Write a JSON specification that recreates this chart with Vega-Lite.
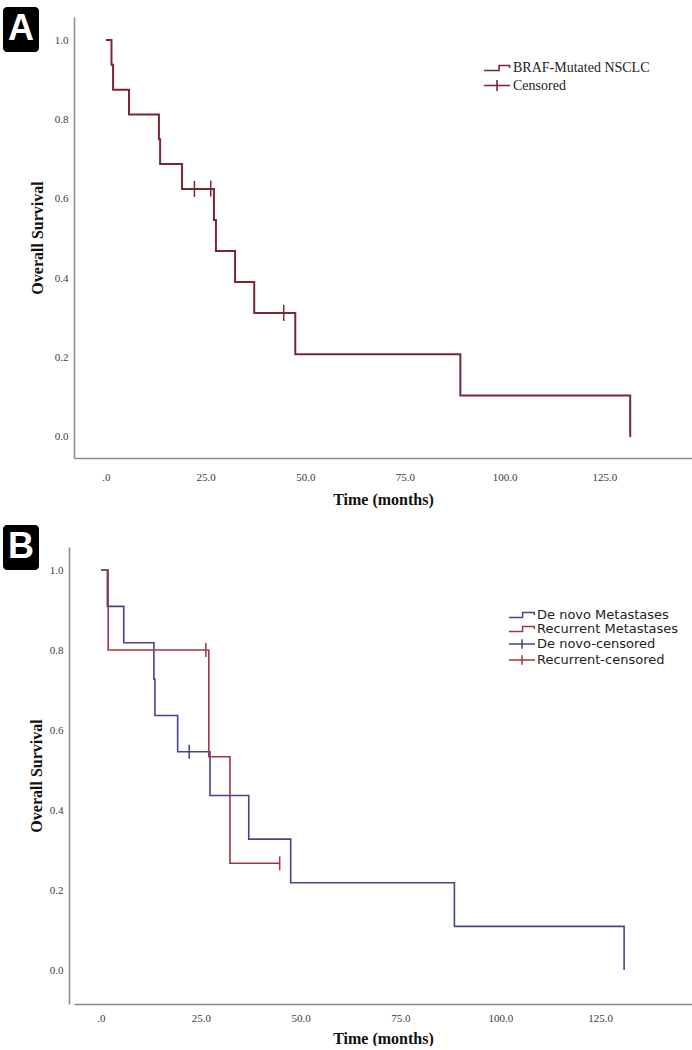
{
  "$schema": "https://vega.github.io/schema/vega-lite/v6.json",
  "autosize": {"type": "pad"},
  "padding": {"left": 3, "top": 7, "right": 0, "bottom": 0},
  "background": "white",
  "config": {
    "view": {"stroke": null},
    "axis": {
      "grid": false, "ticks": false, "tickSize": 0,
      "domainColor": "#8c8c8c", "domainWidth": 1.6,
      "labelFont": "Liberation Serif", "labelFontSize": 11, "labelColor": "#3a3a3a",
      "titleFont": "Liberation Serif", "titleFontSize": 16, "titleFontWeight": "bold", "titleColor": "#111111"
    }
  },
  "datasets": {
    "aLine": [
      {"t": 0, "s": 1}, {"t": 1.4, "s": 0.9375}, {"t": 1.8, "s": 0.875}, {"t": 5.8, "s": 0.8125},
      {"t": 13.3, "s": 0.75}, {"t": 13.6, "s": 0.6875}, {"t": 19.1, "s": 0.625}, {"t": 27.1, "s": 0.5469},
      {"t": 27.6, "s": 0.4688}, {"t": 32.4, "s": 0.3906}, {"t": 37.2, "s": 0.3125}, {"t": 47.5, "s": 0.2083},
      {"t": 88.9, "s": 0.1042}, {"t": 131.5, "s": 0}
    ],
    "aCens": [
      {"t": 22.2, "s": 0.625}, {"t": 26.3, "s": 0.625}, {"t": 44.6, "s": 0.3125}
    ],
    "aLeg": [
      {"key": "BRAF-Mutated NSCLC", "panel": "A"}, {"key": "Censored", "panel": "A"}
    ],
    "bLine": [
      {"group": "De novo", "t": 0, "s": 1}, {"group": "De novo", "t": 1.6, "s": 0.9091},
      {"group": "De novo", "t": 5.7, "s": 0.8182}, {"group": "De novo", "t": 13.25, "s": 0.7273},
      {"group": "De novo", "t": 13.5, "s": 0.6364}, {"group": "De novo", "t": 19.2, "s": 0.5455},
      {"group": "De novo", "t": 27.3, "s": 0.4364}, {"group": "De novo", "t": 37.0, "s": 0.3273},
      {"group": "De novo", "t": 47.5, "s": 0.2182}, {"group": "De novo", "t": 88.5, "s": 0.1091},
      {"group": "De novo", "t": 131, "s": 0},
      {"group": "Recurrent", "t": 0, "s": 1}, {"group": "Recurrent", "t": 1.8, "s": 0.8},
      {"group": "Recurrent", "t": 27.0, "s": 0.5333}, {"group": "Recurrent", "t": 32.3, "s": 0.2667},
      {"group": "Recurrent", "t": 44.75, "s": 0.2667}
    ],
    "bCens": [
      {"group": "De novo", "t": 22.1, "s": 0.5455},
      {"group": "Recurrent", "t": 26.25, "s": 0.8},
      {"group": "Recurrent", "t": 44.75, "s": 0.2667}
    ],
    "bLeg": [
      {"key": "De novo Metastases", "panel": "B"}, {"key": "Recurrent Metastases", "panel": "B"},
      {"key": "De novo-censored", "panel": "B"}, {"key": "Recurrent-censored", "panel": "B"}
    ]
  },
  "concat": [
    {
      "width": 618, "height": 441,
      "layer": [
        {
          "data": {"name": "aLine"},
          "mark": {"type": "line", "interpolate": "step-after", "color": "#7b2733", "strokeWidth": 2},
          "encoding": {
            "x": {"field": "t", "type": "quantitative",
              "scale": {"domain": [-8, 147], "nice": false, "zero": false},
              "axis": {"title": "Time (months)", "values": [0, 25, 50, 75, 100, 125],
                "labelExpr": "datum.value == 0 ? '.0' : format(datum.value, '.1f')",
                "labelPadding": 13, "titlePadding": 9}},
            "y": {"field": "s", "type": "quantitative",
              "scale": {"domain": [-0.053, 1.058], "nice": false, "zero": false},
              "axis": {"title": "Overall Survival", "values": [0, 0.2, 0.4, 0.6, 0.8, 1.0], "format": ".1f",
                "labelPadding": 6, "titlePadding": 9}}
          }
        },
        {
          "data": {"name": "aCens"},
          "mark": {"type": "point", "shape": "M0,-1V1", "size": 256, "filled": false, "color": "#7b2733", "strokeWidth": 1.5, "opacity": 1},
          "encoding": {
            "x": {"field": "t", "type": "quantitative"},
            "y": {"field": "s", "type": "quantitative"}
          }
        },
        {
          "data": {"name": "aLeg"},
          "mark": {"type": "point", "filled": false, "color": "#7b2733", "strokeWidth": 1.6},
          "encoding": {
            "opacity": {"value": 0},
            "shape": {"field": "key", "type": "nominal",
              "scale": {"domain": ["BRAF-Mutated NSCLC", "Censored"],
                "range": ["M-1.86,0.36H0.3V-0.36H1.8V0", "M-1.86,0H1.86M0,-0.8V0.8"]},
              "legend": {"title": null, "orient": "none", "legendX": 415, "legendY": 43,
                "symbolSize": 196, "symbolStrokeWidth": 1.6, "symbolOpacity": 1, "symbolFillColor": "transparent",
                "labelFont": "Liberation Serif", "labelFontSize": 14, "labelColor": "#222222",
                "labelOffset": 8, "rowPadding": 1.5, "padding": 0}},
            "strokeDash": {"field": "panel", "type": "nominal",
              "scale": {"domain": ["A"], "range": [[1, 0]]},
              "legend": {"title": "A", "values": [], "orient": "none", "legendX": -71, "legendY": -10,
                "titleFont": "Liberation Sans", "titleFontWeight": "bold", "titleFontSize": 36,
                "titleColor": "white", "titlePadding": 0, "fillColor": "black", "cornerRadius": 4, "padding": 5}}
          }
        }
      ]
    },
    {
      "width": 618, "height": 457,
      "layer": [
        {
          "data": {"name": "bLine"},
          "mark": {"type": "line", "interpolate": "step-after", "strokeWidth": 1.6},
          "encoding": {
            "x": {"field": "t", "type": "quantitative",
              "scale": {"domain": [-6.76, 148], "nice": false, "zero": false},
              "axis": {"title": "Time (months)", "values": [0, 25, 50, 75, 100, 125],
                "labelExpr": "datum.value == 0 ? '.0' : format(datum.value, '.1f')",
                "labelPadding": 8, "titlePadding": 7}},
            "y": {"field": "s", "type": "quantitative",
              "scale": {"domain": [-0.085, 1.0575], "nice": false, "zero": false},
              "axis": {"title": "Overall Survival", "values": [0, 0.2, 0.4, 0.6, 0.8, 1.0], "format": ".1f",
                "offset": 5, "labelPadding": 6, "titlePadding": 5}},
            "stroke": {"field": "group", "type": "nominal",
              "scale": {"domain": ["De novo", "Recurrent"], "range": ["#42468f", "#9b3a44"]},
              "legend": null},
            "detail": {"field": "group"}
          }
        },
        {
          "data": {"name": "bCens"},
          "mark": {"type": "point", "shape": "M0,-1V1", "size": 196, "filled": false, "strokeWidth": 1.5, "opacity": 1},
          "encoding": {
            "x": {"field": "t", "type": "quantitative"},
            "y": {"field": "s", "type": "quantitative"},
            "stroke": {"field": "group", "type": "nominal", "legend": null}
          }
        },
        {
          "data": {"name": "bLeg"},
          "mark": {"type": "point", "filled": false, "strokeWidth": 1.5},
          "encoding": {
            "opacity": {"value": 0},
            "color": {"field": "key", "type": "nominal",
              "scale": {"domain": ["De novo Metastases", "Recurrent Metastases", "De novo-censored", "Recurrent-censored"],
                "range": ["#42468f", "#9b3a44", "#42468f", "#9b3a44"]},
              "legend": {"title": null, "orient": "none", "legendX": 441, "legendY": 61,
                "symbolSize": 144, "symbolStrokeWidth": 1.5, "symbolOpacity": 1, "symbolFillColor": "transparent",
                "labelFont": "DejaVu Sans", "labelFontSize": 13, "labelColor": "#222222",
                "labelOffset": 8, "rowPadding": 0, "padding": 0}},
            "shape": {"field": "key", "type": "nominal",
              "scale": {"domain": ["De novo Metastases", "Recurrent Metastases", "De novo-censored", "Recurrent-censored"],
                "range": ["M-2.17,0.42H0.1V-0.42H2.05V0", "M-2.17,0.42H0.1V-0.42H2.05V0", "M-2.17,0H2.17M0,-0.8V0.8", "M-2.17,0H2.17M0,-0.8V0.8"]},
              "legend": {"title": null, "orient": "none", "legendX": 441, "legendY": 61,
                "symbolSize": 144, "symbolStrokeWidth": 1.5, "symbolOpacity": 1, "symbolFillColor": "transparent",
                "labelFont": "DejaVu Sans", "labelFontSize": 13, "labelColor": "#222222",
                "labelOffset": 8, "rowPadding": 0, "padding": 0}},
            "strokeDash": {"field": "panel", "type": "nominal",
              "scale": {"domain": ["B"], "range": [[1, 0]]},
              "legend": {"title": "B", "values": [], "orient": "none", "legendX": -71, "legendY": -22,
                "titleFont": "Liberation Sans", "titleFontWeight": "bold", "titleFontSize": 36,
                "titleColor": "white", "titlePadding": 0, "fillColor": "black", "cornerRadius": 4, "padding": 5}}
          }
        }
      ]
    }
  ],
  "columns": 1,
  "align": "none",
  "spacing": 18,
  "resolve": {
    "scale": {"x": "independent", "y": "independent", "color": "independent", "shape": "independent", "stroke": "independent", "strokeDash": "independent"},
    "legend": {"color": "independent", "shape": "independent", "stroke": "independent", "strokeDash": "independent"},
    "axis": {"x": "independent", "y": "independent"}
  }
}
